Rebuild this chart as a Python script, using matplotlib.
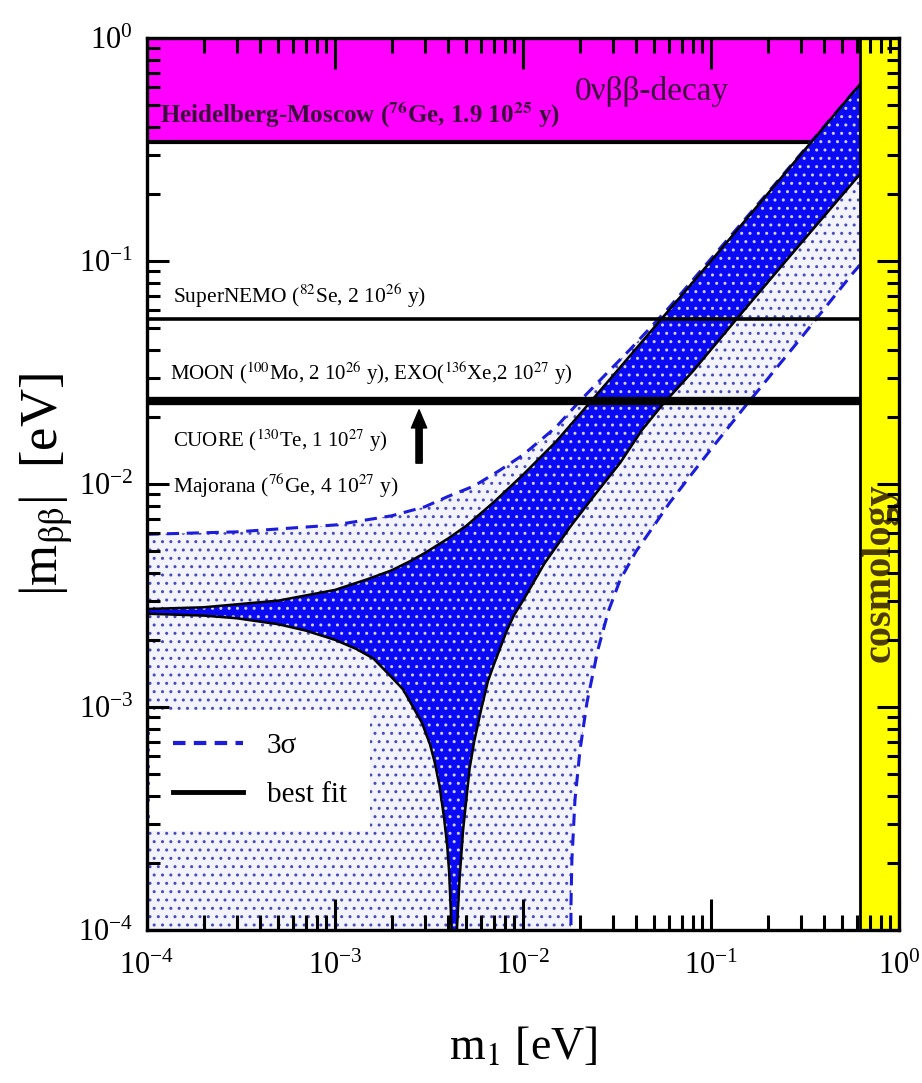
import numpy as np
import matplotlib.pyplot as plt
from matplotlib.lines import Line2D

plt.rcParams['font.family'] = ['Liberation Serif', 'DejaVu Serif']
plt.rcParams['mathtext.fontset'] = 'stix'
plt.rcParams['hatch.linewidth'] = 1.0

# best fit band, upper edge
m1_bf_up = [1e-4, 2e-4, 5e-4, 1e-3, 1.5e-3, 2e-3, 2.5e-3, 3e-3, 4e-3, 5e-3, 7e-3, 1e-2, 1.5e-2, 2e-2,
            3e-2, 5e-2, 0.1, 0.3, 0.62]
mbb_bf_up = [2.75e-3, 2.8e-3, 3.0e-3, 3.35e-3, 3.75e-3, 4.1e-3, 4.5e-3, 4.9e-3, 5.7e-3, 6.5e-3, 8.3e-3,
             1.1e-2, 1.55e-2, 2.05e-2, 3.05e-2, 5.05e-2, 0.1, 0.3, 0.62]

# best fit band, lower edge (cancellation near 4.3 meV)
m1_bf_low = [1e-4, 2e-4, 3e-4, 5e-4, 7e-4, 1e-3, 1.3e-3, 1.6e-3, 2e-3, 2.3e-3, 2.6e-3, 2.9e-3, 3.2e-3,
             3.4e-3, 3.6e-3, 3.8e-3, 3.95e-3, 4.05e-3, 4.15e-3, 4.2e-3, 4.3e-3,
             4.45e-3, 4.6e-3, 4.8e-3, 5.2e-3, 5.5e-3, 6e-3, 6.5e-3, 7e-3, 8.2e-3, 9e-3, 1e-2, 1.3e-2,
             1.8e-2, 2.4e-2, 3.3e-2, 4.3e-2, 5.6e-2, 8e-2, 0.137, 0.25, 0.62]
mbb_bf_low = [2.62e-3, 2.57e-3, 2.5e-3, 2.35e-3, 2.2e-3, 2.0e-3, 1.82e-3, 1.65e-3, 1.36e-3, 1.2e-3,
              1.0e-3, 8.5e-4, 6.8e-4, 5.6e-4, 4.4e-4, 3.2e-4, 2.4e-4, 1.8e-4, 1.1e-4, 8e-5, 1e-6,
              1.0e-4, 1.7e-4, 2.8e-4, 5.3e-4, 7e-4, 9.8e-4, 1.3e-3, 1.55e-3, 2.2e-3, 2.6e-3, 3.0e-3,
              4.4e-3, 6.5e-3, 8.9e-3, 1.25e-2, 1.75e-2, 2.3e-2, 3.2e-2, 5.5e-2, 0.1, 0.245]

# 3 sigma, upper edge
m1_3s_up = [1e-4, 3e-4, 1e-3, 2e-3, 3e-3, 4e-3, 5.5e-3, 7.5e-3, 1e-2, 1.5e-2, 2e-2, 2.7e-2, 3.7e-2,
            6e-2, 0.2, 0.62]
mbb_3s_up = [5.95e-3, 6.1e-3, 6.55e-3, 7.2e-3, 7.9e-3, 8.8e-3, 9.8e-3, 1.15e-2, 1.35e-2, 1.8e-2,
             2.35e-2, 3.05e-2, 4.0e-2, 6.2e-2, 0.202, 0.62]

# 3 sigma, lower edge
m1_3s_low = [1.78e-2, 1.8e-2, 1.82e-2, 1.89e-2, 2.01e-2, 2.19e-2, 2.5e-2, 2.85e-2, 3.28e-2, 4e-2,
             4.91e-2, 6e-2, 7.45e-2, 0.1025, 0.15, 0.2, 0.3, 0.45, 0.569, 0.62]
mbb_3s_low = [1e-6, 1.3e-4, 2.06e-4, 3.83e-4, 6.4e-4, 1.05e-3, 1.8e-3, 2.7e-3, 3.7e-3, 5.0e-3,
              6.4e-3, 8.2e-3, 1.04e-2, 1.47e-2, 2.2e-2, 2.96e-2, 4.5e-2, 6.9e-2, 8.83e-2, 9.6e-2]

# experimental sensitivities
hm_limit = 0.342
supernemo_limit = 0.055
moon_exo_limit = 0.0236
cuore_arrow_m1 = 2.8e-3
cuore_arrow_y = [0.0124, 0.0215]
cosmo_limit = 0.62

fig = plt.figure(figsize=(9.22, 10.83), dpi=100)
ax = fig.add_axes([147/922, 1-930/1083, 752/922, 892/1083])
ax.set_xscale('log')
ax.set_yscale('log')
ax.set_xlim(1e-4, 1)
ax.set_ylim(1e-4, 1)

floor = 1e-6

# Heidelberg-Moscow region
ax.axhspan(hm_limit, 1, color='#ff00ff', zorder=1, lw=0)
ax.axhline(hm_limit, color='k', lw=3, zorder=2)

# 3 sigma region (dotted)
xs = np.concatenate([m1_3s_up, m1_3s_low[::-1], [1e-4]])
ys = np.concatenate([mbb_3s_up, mbb_3s_low[::-1], [floor]])
ax.fill(xs, ys, facecolor='#f3f4fb', edgecolor='#4a4ac0', hatch='..', lw=0, zorder=3)

# best fit band
xb = np.concatenate([m1_bf_up, m1_bf_low[::-1]])
yb = np.concatenate([mbb_bf_up, mbb_bf_low[::-1]])
ax.fill(xb, yb, facecolor='#0a0af5', edgecolor='#d0d0ff', hatch='..', lw=0, zorder=4)

ax.plot(m1_3s_up, mbb_3s_up, color='#1c1cdc', lw=2.2, ls=(0, (4, 2.5)), zorder=5)
ax.plot(m1_3s_low, mbb_3s_low, color='#1c1cdc', lw=2.2, ls=(0, (4, 2.5)), zorder=5)
ax.plot(m1_bf_up, mbb_bf_up, color='k', lw=1.8, zorder=5)
ax.plot(m1_bf_low, mbb_bf_low, color='k', lw=1.8, zorder=5)

# future experiments
ax.axhline(supernemo_limit, color='k', lw=2.6, zorder=6)
ax.axhline(moon_exo_limit, color='k', lw=6, zorder=6)
ax.annotate('', xy=(cuore_arrow_m1, cuore_arrow_y[1]), xytext=(cuore_arrow_m1, cuore_arrow_y[0]),
            arrowprops=dict(facecolor='k', edgecolor='k', width=4.5, headwidth=11, headlength=13, shrink=0),
            zorder=6)

ax.text(1.17e-4, 0.416, r'Heidelberg-Moscow ($^{\mathbf{76}}$Ge, 1.9 10$^{\mathbf{25}}$ y)',
        fontsize=18, fontweight='bold', va='baseline', ha='left', color='#3a0a3a', zorder=7)
ax.text(1.89e-2, 0.527, '0νββ-decay', fontsize=24, va='baseline', ha='left', color='#3a0a3a', zorder=7)
ax.text(1.375e-4, 0.0648, r'SuperNEMO ($^{82}$Se, 2 10$^{26}$ y)', fontsize=15.5, va='baseline', zorder=7)
ax.text(1.33e-4, 0.0293, r'MOON ($^{100}$Mo, 2 10$^{26}$ y), EXO($^{136}$Xe,2 10$^{27}$ y)', fontsize=15,
        va='baseline', zorder=7)
ax.text(1.375e-4, 0.01466, r'CUORE ($^{130}$Te, 1 10$^{27}$ y)', fontsize=15, va='baseline', zorder=7)
ax.text(1.375e-4, 9.12e-3, r'Majorana ($^{76}$Ge, 4 10$^{27}$ y)', fontsize=15.5, va='baseline', zorder=7)

# cosmology bound
ax.axvspan(cosmo_limit, 1, color='#ffff00', zorder=8, lw=0)
ax.axvline(cosmo_limit, color='k', lw=2, zorder=8)
ax.text(0.79, 4.0e-3, 'cosmology', rotation=90, fontsize=29, fontweight='bold',
        ha='center', va='center', color='#4a3a00', zorder=9)

# legend
handles = [Line2D([], [], color='#1c1cdc', lw=3, ls=(0, (3, 2))),
           Line2D([], [], color='k', lw=3.5)]
leg = ax.legend(handles, ['3σ', 'best fit'], loc='upper left', bbox_to_anchor=(0.004, 0.247),
                fontsize=21, frameon=True, fancybox=False, framealpha=1, facecolor='white',
                edgecolor='none', handlelength=2.4, handletextpad=0.8, labelspacing=0.75,
                borderpad=0.8, borderaxespad=0)
leg.set_zorder(10)

ax.set_xlabel(r'm$_1$ [eV]', fontsize=33, va='top')
ax.xaxis.set_label_coords(0.5, -0.108)
ax.set_ylabel(r'|m$_{\mathrm{ββ}}$|  [eV]', fontsize=38, va='center')
ax.yaxis.set_label_coords(-0.135, 0.5)

ax.tick_params(axis='both', which='both', direction='in', top=True, right=True, width=2.2)
ax.tick_params(axis='x', which='major', length=22, pad=16, labelsize=22)
ax.tick_params(axis='x', which='minor', length=11)
ax.tick_params(axis='y', which='major', length=16, pad=10, labelsize=22)
ax.tick_params(axis='y', which='minor', length=9)
ax.xaxis.set_zorder(20)
ax.yaxis.set_zorder(20)
for s in ax.spines.values():
    s.set_linewidth(2.4)
    s.set_zorder(20)

fig.savefig('out.png', dpi=100)
